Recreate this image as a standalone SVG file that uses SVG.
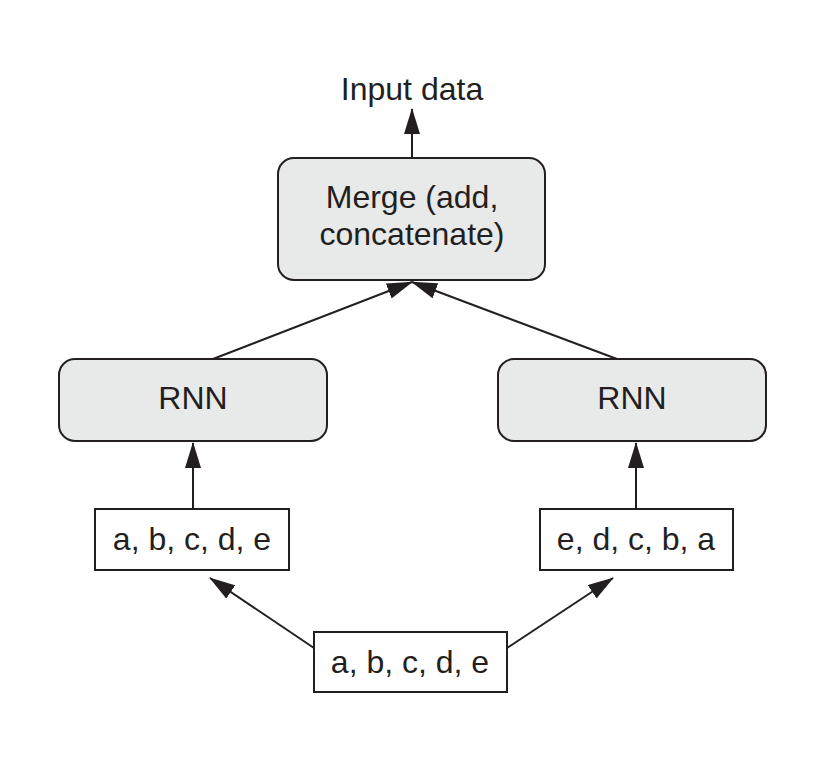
<svg xmlns="http://www.w3.org/2000/svg" width="822" height="782" viewBox="0 0 822 782">
<style>
.box{fill:#e8e9e9;stroke:#231f20;stroke-width:2}
.plain{fill:#ffffff;stroke:#231f20;stroke-width:2}
.t{font-family:"Liberation Sans",Arial,sans-serif;font-size:32px;fill:#231f20;text-anchor:middle}
.c{stroke:#231f20;stroke-width:2;fill:none;marker-end:url(#ah)}
</style>
<defs>
<marker id="ah" markerWidth="27" markerHeight="16" refX="25" refY="8" orient="auto" markerUnits="userSpaceOnUse">
<path d="M0,0 L26,8 L0,16 Z" fill="#231f20"/>
</marker>
</defs>
<rect width="822" height="782" fill="#ffffff"/>
<g id="connectors">
<line class="c" x1="412" y1="158" x2="412" y2="109"/>
<line class="c" x1="213" y1="359" x2="412" y2="282"/>
<line class="c" x1="617" y1="359" x2="412" y2="282"/>
<line class="c" x1="193" y1="509" x2="193" y2="443"/>
<line class="c" x1="636" y1="509" x2="636" y2="443"/>
<line class="c" x1="314" y1="648" x2="210" y2="578"/>
<line class="c" x1="507" y1="648" x2="613" y2="578"/>
</g>
<g id="output-label">
<text class="t" x="412" y="100">Input data</text>
</g>
<g id="merge">
<rect class="box" x="278" y="158" width="267" height="122" rx="16"/>
<text class="t" x="412" y="208">Merge (add,</text>
<text class="t" x="412" y="245">concatenate)</text>
</g>
<g id="rnn-left">
<rect class="box" x="59" y="359" width="268" height="82" rx="16"/>
<text class="t" x="193" y="409">RNN</text>
</g>
<g id="rnn-right">
<rect class="box" x="498" y="359" width="268" height="82" rx="16"/>
<text class="t" x="632" y="409">RNN</text>
</g>
<g id="seq-left">
<rect class="plain" x="95" y="509" width="194" height="61"/>
<text class="t" x="192" y="550">a, b, c, d, e</text>
</g>
<g id="seq-right">
<rect class="plain" x="540" y="509" width="193" height="61"/>
<text class="t" x="636" y="550">e, d, c, b, a</text>
</g>
<g id="input">
<rect class="plain" x="314" y="632" width="193" height="60"/>
<text class="t" x="410" y="673">a, b, c, d, e</text>
</g>
</svg>
